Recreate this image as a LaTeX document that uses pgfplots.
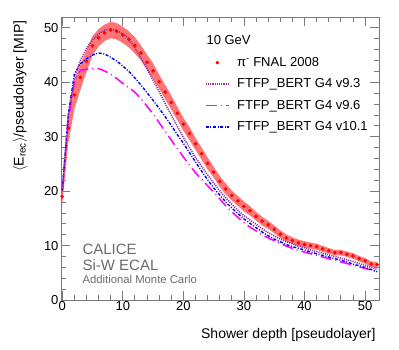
\documentclass[border=0pt]{standalone}
\usepackage{fontspec}
\setmainfont{Liberation Sans}
\setsansfont{Liberation Sans}
\usepackage{pgfplots}
\usepackage{pgfplotstable}
\pgfplotsset{compat=1.18}
\usepgfplotslibrary{fillbetween}

\definecolor{dataRed}{HTML}{FF0000}
\definecolor{bandRed}{HTML}{FF7474}
\definecolor{gfPurple}{HTML}{9B2D9B}
\definecolor{gfMagenta}{HTML}{FF00FF}
\definecolor{gfBlue}{HTML}{0000FF}
\definecolor{frameGray}{HTML}{7A7A7A}
\definecolor{caliceGray}{HTML}{6B6B6B}

% pi- FNAL 2008: layer, mean energy, systematic half-width
\pgfplotstableread{
x y e
0 19.0 1.5
1 31.6 2.8
2 37.7 2.6
3 40.9 2.3
4 43.9 2.0
5 46.7 1.8
6 48.2 1.6
7 49.1 1.5
8 49.6 1.5
9 49.4 1.5
10 48.7 1.5
11 47.9 1.5
12 46.8 1.5
13 45.4 1.4
14 43.7 1.4
15 42.1 1.4
16 40.1 1.3
17 38.2 1.3
18 36.3 1.3
19 34.3 1.2
20 32.3 1.2
21 30.6 1.2
22 28.7 1.1
23 26.9 1.1
24 25.1 1.1
25 23.5 1.0
26 21.8 1.0
27 20.4 1.0
28 19.2 0.9
29 18.2 0.9
30 17.2 0.9
31 16.4 0.85
32 15.4 0.8
33 14.5 0.8
34 13.8 0.75
35 13.0 0.7
36 12.1 0.7
37 11.4 0.65
38 10.9 0.6
39 10.5 0.6
40 10.2 0.6
41 10.0 0.55
42 9.8 0.55
43 9.4 0.55
44 9.05 0.5
45 8.7 0.5
46 8.7 0.5
47 8.4 0.5
48 8.1 0.5
49 7.6 0.5
50 7.2 0.5
51 6.6 0.5
52 6.5 0.5
}\datatab

% Monte Carlo: v9.3, v9.6, v10.1
\pgfplotstableread{
x a b c
0 20.0 20.0 20.0
1 34.0 33.0 34.0
2 40.5 40.0 41.5
3 44.0 42.2 43.4
4 46.2 42.4 44.3
5 47.8 42.5 45.0
6 48.9 42.5 45.4
7 49.6 42.1 45.2
8 49.8 41.5 44.6
9 49.5 40.7 43.9
10 48.9 39.8 43.0
11 48.0 39.0 42.0
12 46.3 38.2 40.8
13 44.5 37.0 39.5
14 42.5 35.6 38.1
15 40.4 34.2 36.7
16 38.3 32.6 35.2
17 36.1 31.0 33.7
18 34.0 29.4 32.1
19 31.9 27.8 30.4
20 29.9 26.3 28.8
21 28.0 24.8 27.1
22 26.2 23.4 25.4
23 24.6 22.2 23.7
24 23.0 21.0 22.1
25 21.5 19.8 20.6
26 20.1 18.6 19.3
27 18.8 17.3 18.0
28 17.6 16.2 16.9
29 16.5 15.2 15.9
30 15.5 14.2 14.9
31 14.7 13.4 14.1
32 13.9 12.7 13.3
33 13.1 12.0 12.5
34 12.4 11.4 11.8
35 11.8 10.9 11.2
36 11.2 10.4 10.7
37 10.7 9.9 10.2
38 10.3 9.5 9.8
39 9.9 9.1 9.5
40 9.6 8.8 9.2
41 9.2 8.5 8.8
42 8.9 8.2 8.5
43 8.6 7.9 8.2
44 8.3 7.6 7.9
45 8.0 7.3 7.6
46 7.7 7.0 7.3
47 7.4 6.7 7.0
48 7.1 6.4 6.6
49 6.7 6.1 6.3
50 6.4 5.8 6.0
51 6.0 5.5 5.6
52 5.6 5.1 5.2
}\mctab

\tikzset{
  v93/.style={gfPurple, line width=1.6pt, dash pattern=on 1.1pt off 1.1pt},
  v96/.style={gfMagenta, line width=1.5pt, dash pattern=on 11pt off 4pt on 1pt off 4pt},
  v101/.style={gfBlue, line width=1.4pt, dash pattern=on 3pt off 1.6pt on 1pt off 1.6pt},
}
\pgfplotsset{
  linelegend/.style={legend image code/.code={%
    \draw[##1] (0pt,0pt) -- (23pt,0pt);
    \path (30.5pt,0pt);}},
  dotlegend/.style={legend image code/.code={%
    \draw[##1] plot coordinates {(11.5pt,0pt)};
    \path (0pt,0pt) (30.5pt,0pt);}},
}

\begin{document}
\begin{tikzpicture}
  \begin{axis}[
    at={(0,0)}, anchor=south west,
    scale only axis, width=318pt, height=283pt,
    xmin=-0.2, xmax=52.3, ymin=0, ymax=52,
    xtick={0,10,...,50}, ytick={0,10,...,50},
    minor tick num=4,
    tick align=inside,
    major tick length=9pt, minor tick length=5pt,
    axis line style={frameGray, line width=0.8pt},
    every tick/.style={frameGray, line width=0.8pt},
    /pgf/number format/assume math mode=true,
    tick label style={font=\fontsize{13}{15}\selectfont, text=black},
    xticklabel style={yshift=2pt},
    yticklabel style={xshift=1pt},
    clip=false,
    legend style={at={(rel axis cs:0.453,0.862)}, anchor=north west,
      draw=none, fill=none, inner sep=0pt, outer sep=0pt,
      font=\fontsize{13}{15}\selectfont, row sep=8.5pt,
      nodes={inner sep=0pt, text height=10pt, text depth=3pt},
      cells={anchor=west}},
    linelegend,
  ]
    % legend entries in the reference order
    \addlegendimage{only marks, mark=*, mark size=1.6pt, dataRed, dotlegend}
    \addlegendentry{π\textsuperscript{-} FNAL 2008}
    \addlegendimage{v93}
    \addlegendentry{FTFP\_BERT G4 v9.3}
    \addlegendimage{v96}
    \addlegendentry{FTFP\_BERT G4 v9.6}
    \addlegendimage{v101}
    \addlegendentry{FTFP\_BERT G4 v10.1}

    % systematic band of the data
    \addplot[draw=none, forget plot, name path=up]
      table[x=x, y expr=\thisrow{y}+\thisrow{e}] {\datatab};
    \addplot[draw=none, forget plot, name path=lo]
      table[x=x, y expr=\thisrow{y}-\thisrow{e}] {\datatab};
    \addplot[fill=bandRed, draw=none, forget plot] fill between[of=up and lo];

    \addplot[v96, no marks, forget plot] table[x=x, y=b] {\mctab};
    \addplot[v101, no marks, forget plot] table[x=x, y=c] {\mctab};
    \addplot[v93, no marks, forget plot] table[x=x, y=a] {\mctab};

    \addplot[only marks, mark=*, mark size=1.6pt, dataRed, forget plot]
      table[x=x, y=y] {\datatab};

    \node[anchor=west, font=\fontsize{13}{15}\selectfont]
      at (rel axis cs:0.4465,0.919) {10 GeV};

    \node[anchor=base west, font=\fontsize{15}{17}\selectfont, text=caliceGray]
      at (rel axis cs:0.0566,0.1625) {CALICE};
    \node[anchor=base west, font=\fontsize{15}{17}\selectfont, text=caliceGray]
      at (rel axis cs:0.0566,0.106) {Si-W ECAL};
    \node[anchor=base west, font=\fontsize{11.3}{13}\selectfont, text=caliceGray]
      at (rel axis cs:0.0566,0.060) {Additional Monte Carlo};

    \node[anchor=east, font=\fontsize{14}{16}\selectfont]
      at (rel axis cs:1,-0.124) {Shower depth [pseudolayer]};
    \node[anchor=east, rotate=90, font=\fontsize{14}{16}\selectfont]
      at (rel axis cs:-0.129,1) {$\langle$E\textsubscript{rec}$\rangle$/pseudolayer [MIP]};
  \end{axis}
  \pgfresetboundingbox
  \path[use as bounding box] (-61pt,-49pt) rectangle (338pt,300pt);
\end{tikzpicture}
\end{document}
